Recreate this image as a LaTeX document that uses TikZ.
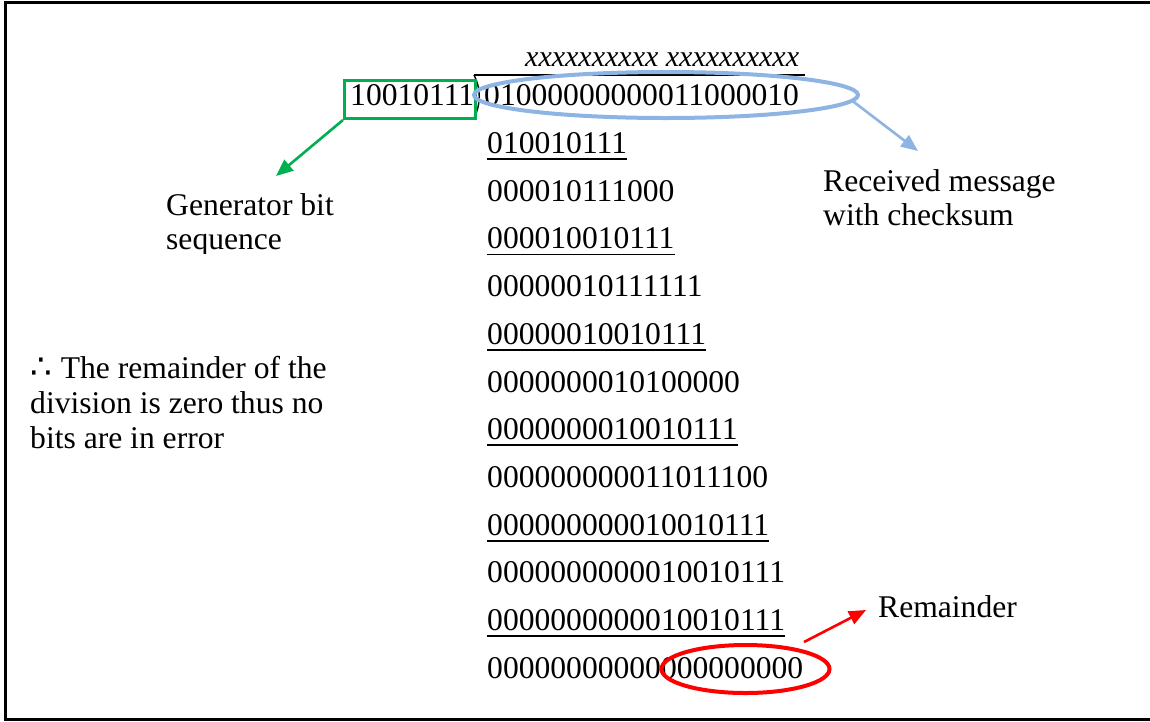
\documentclass[tikz,border=0pt]{standalone}
\usepackage{fontspec}
\setmainfont{Liberation Serif}
\newfontfamily\symfont{DejaVu Sans}
\usetikzlibrary{arrows.meta,shapes.geometric}
\definecolor{gengreen}{RGB}{0,176,80}
\definecolor{msgblue}{RGB}{141,180,226}
\definecolor{remred}{RGB}{255,0,0}
\begin{document}
\begin{tikzpicture}[x=1pt,y=-1pt,
  txt/.style={inner sep=0pt, anchor=base west, font=\fontsize{31.6}{35}\selectfont},
  uline/.style={line width=1.8pt},
  callout/.style={line width=2.6pt, -{Triangle[length=17pt,width=14pt]}},
  ring/.style={ellipse, draw, line width=4pt, inner sep=0pt}]
\useasboundingbox (0,0) rectangle (1150,721);

% page frame (right edge lies outside the picture)
\draw[line width=2.6pt] (1152,2.2) -- (5.6,2.2) -- (5.6,719.4) -- (1152,719.4);

% quotient placeholder and division bracket
\node[txt, font=\fontsize{30}{33}\selectfont\itshape] (quot) at (525,66) {xxxxxxxxxx xxxxxxxxxx};
\draw[line width=1.4pt] (474,75) -- (805,75);
\draw[line width=1.4pt] (474,75) .. controls (481,88) and (481,105) .. (474,118);

% divisor and dividend
\node[txt] (gen) at (350,105.5) {10010111};
\node[txt] (dvd) at (484,105.5) {01000000000011000010};

% successive subtraction rows
\foreach \t [count=\i] in {010010111,000010111000,000010010111,00000010111111,
    00000010010111,0000000010100000,0000000010010111,000000000011011100,
    000000000010010111,0000000000010010111,0000000000010010111,00000000000000000000}{
  \pgfmathsetmacro\yb{153.5+47.7*(\i-1)}
  \node[txt] (r\i) at (487,\yb) {\t};
  \ifodd\i
    \draw[uline] ([yshift=-5.5pt]r\i.base west) -- ([yshift=-5.5pt]r\i.base east);
  \fi
}

% highlight rings
\node[draw=gengreen, line width=3pt, inner sep=0pt, minimum width=130.5pt, minimum height=38.5pt] (gbox) at (409.75,99.25) {};
\node[ring, draw=msgblue, minimum width=384pt, minimum height=46pt] (msg) at (666,95) {};
\node[ring, draw=remred, minimum width=168pt, minimum height=48pt] (rem) at (745.5,669) {};

% labels
\begin{scope}
  \clip (150,180) rectangle (400,253);
  \node[txt] (genl1) at (166,215) {Generator bit};
  \node[txt] (genl2) at (166,249) {sequence};
\end{scope}
\node[txt] (msgl1) at (823,191) {Received message};
\node[txt] (msgl2) at (823,225) {with checksum};
\node[txt] (note1) at (30,378) {{\symfont\fontsize{34}{36}\selectfont ∴}\hspace{9pt}The remainder of the};
\node[txt] (note2) at (30,413) {division is zero thus no};
\node[txt] (note3) at (30,448) {bits are in error};
\node[txt] (reml) at (878,617) {Remainder};

% callout arrows
\coordinate (gtip) at (276,176);
\coordinate (mtip) at (918,151);
\coordinate (rstart) at (804,642);
\coordinate (rtip) at (866,610);
\draw[callout, draw=gengreen, fill=gengreen] (gbox.south west) -- (gtip);
\draw[callout, draw=msgblue, fill=msgblue] (msg.-2.5) -- (mtip);
\draw[callout, draw=remred, fill=remred] (rstart) -- (rtip);
\end{tikzpicture}
\end{document}
